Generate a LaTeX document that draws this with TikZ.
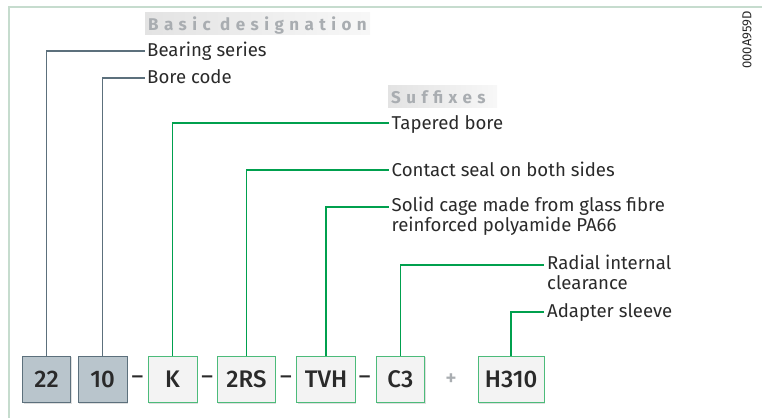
\documentclass[tikz,border=0pt]{standalone}
\usepackage{fontspec}
\setmainfont{Fira Sans}
\newfontfamily\medfont{Fira Sans Medium}
\newfontfamily\dashfont{Liberation Sans}
\usetikzlibrary{calc,shadows}
\definecolor{framec}{HTML}{C6DCCE}
\definecolor{basicfill}{HTML}{B9C5CC}
\definecolor{basicdraw}{HTML}{5C707C}
\definecolor{suffill}{HTML}{F3F3F3}
\definecolor{sufdraw}{HTML}{4CBB7A}
\definecolor{sufline}{HTML}{00A04E}
\definecolor{headtxt}{HTML}{A9ADB1}
\definecolor{txt}{HTML}{2A2A2A}
\tikzset{
  box/.style={minimum height=46.5pt, inner sep=0pt, line width=1pt, font=\fontsize{24}{26}\selectfont\medfont, text=txt,
    drop shadow={opacity=0.25, shadow xshift=1pt, shadow yshift=-1.2pt}},
  basicbox/.style={box, draw=basicdraw, fill=basicfill},
  sufbox/.style={box, draw=sufdraw, fill=suffill},
  basicln/.style={draw=basicdraw, line width=1.3pt},
  sufln/.style={draw=sufline, line width=1.3pt},
  lab/.style={anchor=base west, inner sep=0pt, font=\fontsize{18.6}{20}\selectfont, text=txt, align=left},
  head/.style={anchor=base west, inner sep=0pt, font=\fontsize{17}{19}\selectfont\bfseries\addfontfeature{LetterSpace=32}, text=headtxt},
  sep/.style={font=\fontsize{21}{24}\selectfont\dashfont\bfseries, text=txt, inner sep=0pt},
  plussep/.style={font=\fontsize{22}{24}\selectfont\medfont, text=headtxt, inner sep=0pt},
}
\begin{document}
\begin{tikzpicture}[x=1pt,y=-1pt]
\useasboundingbox (0,0) rectangle (762,418);
% frame
\draw[framec, line width=2pt] (762,6.5) -- (8.5,6.5) -- (8.5,418);
% headings
\shade[left color=black!11, right color=black!3] (145,12) rectangle (370,34);
\node[head] (hbasic) at (148,30) {Basic designation};
\shade[left color=black!11, right color=black!3] (388,85) rectangle (497,107);
\node[head] (hsuf) at (391,103) {Suffixes};
% code
\node[rotate=90, font=\fontsize{13}{15}\selectfont, text=txt, inner sep=0pt] (code) at (747,40) {000A959D};
% boxes
\node[basicbox, minimum width=48pt] (b22) at (46.6,379.3) {22};
\node[basicbox, minimum width=48.6pt] (b10) at (102.7,379.3) {10};
\node[sufbox, minimum width=49pt] (bK) at (172.5,379.3) {K};
\node[sufbox, minimum width=58pt] (b2RS) at (246.4,379.3) {2RS};
\node[sufbox, minimum width=58.6pt] (bTVH) at (326,379.3) {TVH};
\node[sufbox, minimum width=48.5pt] (bC3) at (400.3,379.3) {C3};
\node[sufbox, minimum width=65.8pt] (bH) at (511.1,379.3) {H310};
% separators
\node[sep] (d1) at (137.5,379.3) {–};
\node[sep] (d2) at (207.1,379.3) {–};
\node[sep] (d3) at (285.9,379.3) {–};
\node[sep] (d4) at (364.6,379.3) {–};
\node[plussep] (plus) at (451,379.3) {+};
% label end coordinates
\coordinate (e1) at (145,51);
\coordinate (e2) at (145,78);
\coordinate (e3) at (389,123);
\coordinate (e4) at (389,170);
\coordinate (e5) at (389,207);
\coordinate (e6) at (543.5,265);
\coordinate (e7) at (543.5,312);
% labels
\node[lab] (l1) at (147,56.7) {Bearing series};
\node[lab] (l2) at (147,83.5) {Bore code};
\node[lab] (l3) at (391.5,129.5) {Tapered bore};
\node[lab] (l4) at (391.5,176.5) {Contact seal on both sides};
\node[lab] (l5) at (391.5,231.7) {Solid cage made from glass fibre\\reinforced polyamide PA66};
\node[lab] (l6) at (547,289.5) {Radial internal\\clearance};
\node[lab] (l7) at (547,317.5) {Adapter sleeve};
% connectors
\draw[basicln] (b22.north) |- (e1);
\draw[basicln] (b10.north) |- (e2);
\draw[sufln] (bK.north) |- (e3);
\draw[sufln] (b2RS.north) |- (e4);
\draw[sufln] (bTVH.north) |- (e5);
\draw[sufln] (bC3.north) |- (e6);
\draw[sufln] (bH.north) |- (e7);
\end{tikzpicture}
\end{document}
